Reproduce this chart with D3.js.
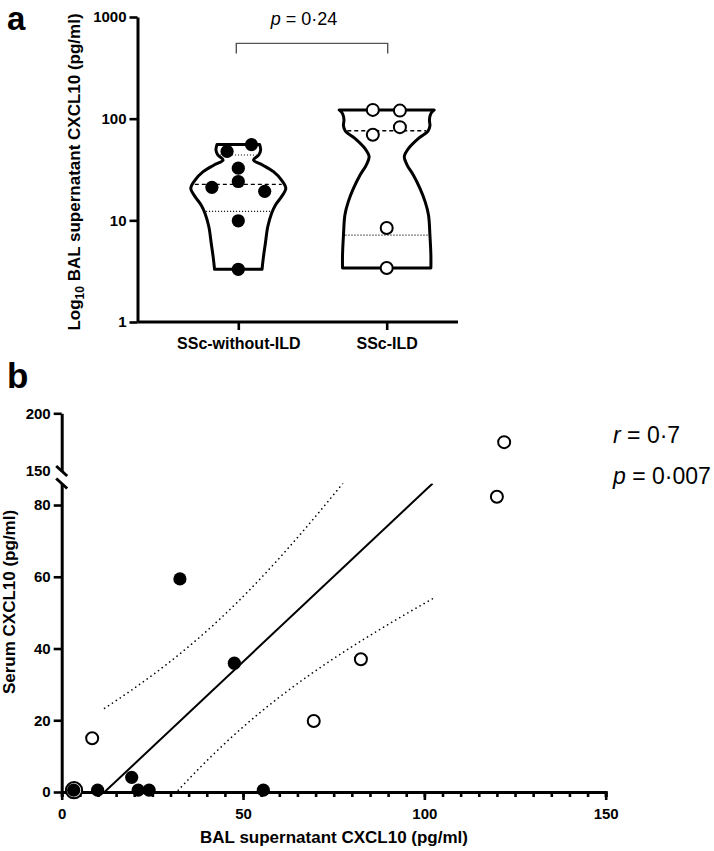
<!DOCTYPE html>
<html><head><meta charset="utf-8">
<script src="https://cdn.jsdelivr.net/npm/d3@7"></script>
<style>
body{margin:0;background:#fff}
svg{display:block}
text{font-family:"Liberation Sans",Arial,Helvetica,sans-serif;fill:#000}
</style>
</head><body><svg id="c" width="714" height="851"></svg>
<script>
// ---------------- DATA ----------------
const categories = ["SSc-without-ILD", "SSc-ILD"];
// BAL supernatant CXCL10 (pg/ml) and paired serum CXCL10 (pg/ml)
const balNoILD   = [55.6, 47.6, 32.6, 24.1, 21.1, 19.3, 9.9, 3.3];
const serumNoILD = [0.5, 35.9, 59.4, 0.5, 0.5, 4.1, 0.5, 0.5];
const jitterNoILD = [1, -0.85, 0, 0, -2, 2, 0, 0];          // symbol-width offsets
const balILD     = [122, 120, 82.5, 69.5, 8.4, 3.4];
const serumILD   = [175, 82.3, 37, 19.8, 15, 0.5];
const jitterILD  = [-1.05, 1, 1, -1.05, 0, 0];
// violin outlines: [value (pg/ml), relative density]
const violinNoILD = [[55.6,0.45],[49.1,0.47],[43.9,0.43],[39.2,0.32],[35.0,0.51],[30.1,0.74],
  [24.9,0.91],[20.7,1.0],[17.1,0.91],[14.1,0.78],[11.7,0.70],[8.65,0.62],[5.94,0.57],[4.39,0.53],[3.3,0.50]];
const violinILD = [[122,1.0],[112.2,0.93],[97.7,0.90],[85.1,0.91],[75.5,0.87],[64,0.67],[51,0.46],
  [42.2,0.37],[35,0.43],[27.9,0.56],[20.6,0.70],[15.2,0.81],[11.3,0.88],[7.17,0.91],[4.56,0.93],[3.4,0.93]];
const yTicksA = [1, 10, 100, 1000];
const pTextA = "0·24";
const yTicksLow = [0, 20, 40, 60, 80];
const yTicksHigh = [150, 200];
const xTicksB = [0, 50, 100, 150];
const rText = "0·7", pTextB = "0·007";
const tCrit = 2.1788; // t(0.975, df = 12)

// ---------------- SETUP ----------------
const svg = d3.select("#c");
const FONT = '"Liberation Sans",Arial,sans-serif';

function styleAxis(g, fs) {
  g.select(".domain").attr("stroke", "#000").attr("stroke-width", 3);
  g.selectAll(".tick line").attr("stroke", "#000").attr("stroke-width", 2.6);
  g.selectAll(".tick text").attr("font-size", fs).attr("font-weight", "bold")
    .attr("font-family", FONT).attr("fill", "#000");
}

// ================= PANEL A =================
const yA = d3.scaleLog().domain([1, 1000]).range([322, 17]);
const xA = d3.scalePoint().domain(categories).range([238.3, 386.7]);
const axLeftA = 137.5, axRightA = 458;

// y axis
const gyA = svg.append("g").attr("transform", `translate(${axLeftA},0)`)
  .call(d3.axisLeft(yA).tickValues(yTicksA).tickFormat(d3.format("d")).tickSize(8).tickSizeOuter(0).tickPadding(3));
styleAxis(gyA, 15);
// x axis
svg.append("line").attr("x1", axLeftA).attr("x2", axRightA).attr("y1", yA(1)).attr("y2", yA(1))
  .attr("stroke", "#000").attr("stroke-width", 3);
const gxA = svg.append("g").attr("transform", `translate(0,${yA(1)})`)
  .call(d3.axisBottom(xA).tickSize(8).tickPadding(8));
gxA.select(".domain").remove();
styleAxis(gxA, 16);

// y title
svg.append("text").attr("transform", `translate(80,172) rotate(-90)`).attr("text-anchor", "middle")
  .attr("font-size", 17).attr("font-weight", "bold")
  .call(t => {
    t.append("tspan").text("Log");
    t.append("tspan").attr("font-size", 12).attr("dy", 4).text("10");
    t.append("tspan").attr("dy", -4).text(" BAL supernatant CXCL10 (pg/ml)");
  });

// panel label
svg.append("text").attr("x", 7).attr("y", 29.5).attr("font-size", 33).attr("font-weight", "bold").text("a");

// violins
const wA = d3.scaleLinear().domain([0, 1]).range([0, 47.5]);
function densityAt(profile, v) {
  const lv = Math.log10(v);
  for (let i = 0; i < profile.length - 1; i++) {
    const a = Math.log10(profile[i][0]), b = Math.log10(profile[i + 1][0]);
    if ((lv <= a && lv >= b)) {
      const t = (lv - a) / (b - a);
      return profile[i][1] + t * (profile[i + 1][1] - profile[i][1]);
    }
  }
  return profile[profile.length - 1][1];
}
function quantile(arr, p) { // Prism (n+1)p method
  const s = arr.slice().sort((a, b) => a - b), n = s.length;
  const pos = (n + 1) * p;
  const lo = Math.floor(pos), frac = pos - lo;
  if (lo < 1) return s[0];
  if (lo >= n) return s[n - 1];
  return s[lo - 1] + frac * (s[lo] - s[lo - 1]);
}
const groupsA = [
  {cat: categories[0], vals: balNoILD, jit: jitterNoILD, prof: violinNoILD, filled: true},
  {cat: categories[1], vals: balILD, jit: jitterILD, prof: violinILD, filled: false}
];
const symR = 6.6;
groupsA.forEach(g => {
  const cx = xA(g.cat);
  const area = d3.area()
    .y(d => yA(d[0]))
    .x0(d => cx - wA(d[1]))
    .x1(d => cx + wA(d[1]))
    .curve(d3.curveCatmullRom.alpha(0.5));
  svg.append("path").attr("d", area(g.prof)).attr("fill", "#fff").attr("stroke", "#000")
    .attr("stroke-width", 3).attr("stroke-linejoin", "round");
  // median & quartiles
  [[0.5, "4,3", 1.4], [0.25, "1,2", 1.1], [0.75, "1,2", 1.1]].forEach(([p, dash, sw]) => {
    const q = quantile(g.vals, p);
    const w = wA(densityAt(g.prof, q)) - 2;
    svg.append("line").attr("x1", cx - w).attr("x2", cx + w).attr("y1", yA(q)).attr("y2", yA(q))
      .attr("stroke", "#000").attr("stroke-width", sw).attr("stroke-dasharray", dash);
  });
  // points
  g.vals.forEach((v, i) => {
    svg.append("circle").attr("cx", cx + g.jit[i] * 2 * symR).attr("cy", yA(v)).attr("r", g.filled ? symR : symR - 0.6)
      .attr("fill", g.filled ? "#000" : "#fff").attr("stroke", "#000").attr("stroke-width", g.filled ? 0 : 2);
  });
});

// significance bracket
const bY = yA(550);
svg.append("path")
  .attr("d", `M${xA(categories[0]) - 2},${bY + 10}V${bY}H${xA(categories[1]) + 1}V${bY + 10}`)
  .attr("fill", "none").attr("stroke", "#555").attr("stroke-width", 1.4);
svg.append("text").attr("x", 304).attr("y", 25).attr("text-anchor", "middle").attr("font-size", 18)
  .call(t => { t.append("tspan").attr("font-style", "italic").text("p"); t.append("tspan").text(" = " + pTextA); });

// ================= PANEL B =================
const xB = d3.scaleLinear().domain([0, 150]).range([61.7, 605.7]);
const yLow = d3.scaleLinear().domain([0, 86]).range([792, 483.5]);
const yHigh = d3.scaleLinear().domain([150, 200]).range([471, 413.3]);
const yB = v => v >= 150 ? yHigh(v) : yLow(v);

svg.append("text").attr("x", 7).attr("y", 388).attr("font-size", 35).attr("font-weight", "bold").text("b");

// y axes (broken)
const gyLow = svg.append("g").attr("transform", `translate(${xB(0)},0)`)
  .call(d3.axisLeft(yLow).tickValues(yTicksLow).tickSize(8).tickSizeOuter(0).tickPadding(3));
styleAxis(gyLow, 15);
const gyHigh = svg.append("g").attr("transform", `translate(${xB(0)},0)`)
  .call(d3.axisLeft(yHigh).tickValues(yTicksHigh).tickSize(8).tickSizeOuter(0).tickPadding(3));
styleAxis(gyHigh, 15);
gyHigh.selectAll(".tick").filter(d => d === 150).select("line").remove();
// break marks
[yHigh(150), yLow(86)].forEach(y => {
  svg.append("line").attr("x1", xB(0) - 5.5).attr("x2", xB(0) + 5.5).attr("y1", y - 5).attr("y2", y + 5)
    .attr("stroke", "#000").attr("stroke-width", 3);
});
// x axis
const gxBminor = svg.append("g").attr("transform", `translate(0,${yLow(0)})`)
  .call(d3.axisBottom(xB).tickValues(d3.range(0, 151, 5)).tickSize(5).tickFormat(""));
styleAxis(gxBminor, 15);
const gxB = svg.append("g").attr("transform", `translate(0,${yLow(0)})`)
  .call(d3.axisBottom(xB).tickValues(xTicksB).tickSize(8).tickSizeOuter(0).tickPadding(8));
styleAxis(gxB, 15);

// titles
svg.append("text").attr("transform", `translate(15,602) rotate(-90)`).attr("text-anchor", "middle")
  .attr("font-size", 17).attr("font-weight", "bold").text("Serum CXCL10 (pg/ml)");
svg.append("text").attr("x", 334).attr("y", 843).attr("text-anchor", "middle")
  .attr("font-size", 17).attr("font-weight", "bold").text("BAL supernatant CXCL10 (pg/ml)");

// regression (OLS on all pairs) with 95% CI
const X = balNoILD.concat(balILD), Y = serumNoILD.concat(serumILD);
const n = X.length, mx = d3.mean(X), my = d3.mean(Y);
const Sxx = d3.sum(X, x => (x - mx) ** 2);
const Sxy = d3.sum(X, (x, i) => (x - mx) * (Y[i] - my));
const slope = Sxy / Sxx, icpt = my - slope * mx;
const sRes = Math.sqrt(d3.sum(X, (x, i) => (Y[i] - (icpt + slope * x)) ** 2) / (n - 2));
const yTop = yLow.domain()[1];
const xs0 = Math.max(d3.min(X), (0 - icpt) / slope);
const xs1 = Math.min(d3.max(X), (yTop - icpt) / slope);
const xsamp = d3.range(0, 121).map(i => xs0 + (xs1 - xs0) * i / 120);
const half = x => tCrit * sRes * Math.sqrt(1 / n + (x - mx) ** 2 / Sxx);

svg.append("clipPath").attr("id", "lowclip").append("rect")
  .attr("x", xB(0)).attr("y", yLow(yTop)).attr("width", xB(150) - xB(0)).attr("height", yLow(0) - yLow(yTop));
const gFit = svg.append("g").attr("clip-path", "url(#lowclip)");
const ln = d3.line().x(d => xB(d[0])).y(d => yLow(d[1]));
gFit.append("path").attr("d", ln([[xs0, icpt + slope * xs0], [xs1, icpt + slope * xs1]]))
  .attr("stroke", "#000").attr("stroke-width", 2).attr("fill", "none");
[1, -1].forEach(sg => {
  gFit.append("path").attr("d", ln(xsamp.map(x => [x, icpt + slope * x + sg * half(x)])))
    .attr("stroke", "#000").attr("stroke-width", 1.6).attr("fill", "none")
    .attr("stroke-dasharray", "0.1,4.6").attr("stroke-linecap", "round");
});

// points
const symRB = 6.6;
balILD.forEach((x, i) => {
  svg.append("circle").attr("cx", xB(x)).attr("cy", yB(serumILD[i])).attr("r", i === balILD.length - 1 ? symRB + 1.5 : symRB - 0.6)
    .attr("fill", "#fff").attr("stroke", "#000").attr("stroke-width", 2);
});
balNoILD.forEach((x, i) => {
  svg.append("circle").attr("cx", xB(x)).attr("cy", yB(serumNoILD[i])).attr("r", symRB).attr("fill", "#000");
});

// stats text
svg.append("text").attr("x", 613).attr("y", 443).attr("font-size", 23)
  .call(t => { t.append("tspan").attr("font-style", "italic").text("r"); t.append("tspan").text(" = " + rText); });
svg.append("text").attr("x", 613).attr("y", 484).attr("font-size", 23)
  .call(t => { t.append("tspan").attr("font-style", "italic").text("p"); t.append("tspan").text(" = " + pTextB); });
</script>
</body></html>
